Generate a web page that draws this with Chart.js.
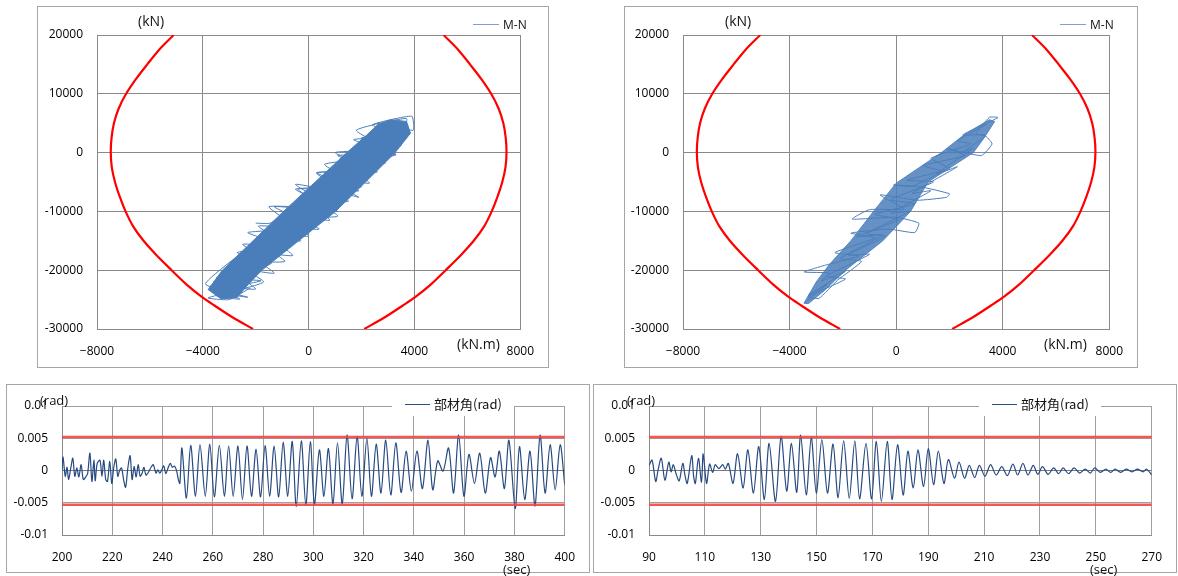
<!DOCTYPE html>
<html>
<head>
<meta charset="utf-8">
<script src="https://cdn.jsdelivr.net/npm/chart.js@4.4.0/dist/chart.umd.min.js"></script>
<style>
body { margin: 0; width: 1178px; height: 576px; background: #fff; position: relative; overflow: hidden; font-family: "Open Sans", sans-serif; }
.box { position: absolute; border: 1px solid #a6a6a6; box-sizing: border-box; }
canvas { position: absolute; }
.lbl { position: absolute; white-space: nowrap; color: #111; line-height: 16px; }
.key { position: absolute; height: 0; border-top: 1.5px solid; }
.keybg { position: absolute; background: #fff; }
.cjk { font-family: "Noto Sans CJK JP", "Open Sans", sans-serif; }
</style>
</head>
<body>

<div class="box" style="left:37px;top:6px;width:512px;height:362px"></div>
<canvas id="mn1" width="512" height="362" style="left:37px;top:6px"></canvas>
<div class="lbl" style="left:138px;top:13px;font-size:14px">(kN)</div>
<div class="lbl" style="left:457px;top:336px;font-size:14px">(kN.m)</div>
<div class="key" style="left:473px;top:24px;width:26px;border-color:#7d9fd3"></div>
<div class="lbl" style="left:503px;top:17px;font-size:12px">M-N</div>

<div class="box" style="left:624px;top:6px;width:514px;height:362px"></div>
<canvas id="mn2" width="514" height="362" style="left:624px;top:6px"></canvas>
<div class="lbl" style="left:725px;top:13px;font-size:14px">(kN)</div>
<div class="lbl" style="left:1044px;top:336px;font-size:14px">(kN.m)</div>
<div class="key" style="left:1060px;top:24px;width:26px;border-color:#7d9fd3"></div>
<div class="lbl" style="left:1090px;top:17px;font-size:12px">M-N</div>

<div class="box" style="left:6px;top:384px;width:584px;height:189px"></div>
<canvas id="dr1" width="584" height="189" style="left:6px;top:384px"></canvas>
<div class="keybg" style="left:392px;top:397px;width:122px;height:19px"></div>
<div class="key" style="left:405px;top:404px;width:25px;border-color:#2a4f86"></div>
<div class="lbl cjk" style="left:434px;top:396px;font-size:13px">部材角(rad)</div>
<div class="lbl" style="left:40px;top:392px;font-size:13px">(rad)</div>
<div class="lbl" style="left:503px;top:561px;font-size:13px">(sec)</div>

<div class="box" style="left:593px;top:384px;width:584px;height:189px"></div>
<canvas id="dr2" width="584" height="189" style="left:593px;top:384px"></canvas>
<div class="keybg" style="left:979px;top:397px;width:122px;height:19px"></div>
<div class="key" style="left:992px;top:404px;width:25px;border-color:#2a4f86"></div>
<div class="lbl cjk" style="left:1021px;top:396px;font-size:13px">部材角(rad)</div>
<div class="lbl" style="left:627px;top:392px;font-size:13px">(rad)</div>
<div class="lbl" style="left:1090px;top:561px;font-size:13px">(sec)</div>

<script>
// axis ticks
const mnTicksM = [-8000, -4000, 0, 4000, 8000];
const mnTicksN = [-30000, -20000, -10000, 0, 10000, 20000];
const driftTicksV = [-0.01, -0.005, 0, 0.005, 0.01];
const driftTicksT1 = [200, 220, 240, 260, 280, 300, 320, 340, 360, 380, 400];
const driftTicksT2 = [90, 110, 130, 150, 170, 190, 210, 230, 250, 270];

// M-N capacity curve (left and right branches)
const capN      = [20000, 17500, 15000, 12500, 10000, 7500, 5000, 2500, 0, -2500, -5000, -7500, -10000, -12500, -15000, -17500, -20000, -22500, -24500, -26000, -28000, -30000];
const capLeftM  = [-5100, -5650, -6100, -6530, -6900, -7180, -7360, -7450, -7480, -7440, -7320, -7140, -6920, -6640, -6240, -5740, -5180, -4600, -4050, -3560, -2880, -2100];
const capRightM = [5100, 5650, 6100, 6530, 6900, 7180, 7360, 7450, 7480, 7440, 7320, 7140, 6920, 6640, 6240, 5740, 5180, 4600, 4050, 3560, 2880, 2100];

// case 1 : dense part of the M-N loops, and the loop trace
const core1M = [-3800, -3260, -2100, -950, 250, 1445, 2200, 2600, 3100, 3700, 3850, 3270, 2150, 1020, -380, -1770, -2300, -2700, -3300, -3800];
const core1N = [-23300, -20000, -15000, -10000, -5000, 0, 3000, 4700, 5600, 5300, 3300, 0, -5000, -10000, -15000, -20000, -22500, -24600, -24900, -23300];
const loop1M = [-2000, -1450, -600, -1300, -3900, -2300, -3600, -1800, -3500, -1400, -2500, -700, -1900, 400, -1300, 1100, -500, 1900, 300, 2600, 1100, 3300, 1700, 3700, 2400, 3900, 3950,
                2600, 3500, 1900, 2900, 1200, 2300, 500, 1500, -200, 800, -1000, 0, -1700, -600, -2400, -1300, -3100, -2000, -3700, -2600,
                -3500, -2500, -3600, -1600, -2700, -1000, -2300, -500, -1500, 800, -500, 1400, 1900, 300, 2300, 1000, 2900, 1800, 3700, 3500,
                2000, 3300, 600, 2000, -400, 1100, -1200, -300, -2000, -900, -2900, -1700, -3800, -3000, -2200];
const loop1N = [-12000, -12000, -9500, -12800, -22300, -24600, -23500, -21800, -21300, -18800, -15600, -16000, -12500, -13000, -9200, -10000, -6200, -6500, -3400, -3300, -500, -300, 2200, 2800, 4700, 6200, 3800,
                5000, 1200, 1500, -1800, -1000, -5200, -4000, -8300, -7500, -11500, -10300, -14200, -13500, -17500, -16800, -20500, -19500, -23200, -22600, -24900,
                -24300, -21000, -22000, -19000, -17000, -15800, -13600, -12800, -9200, -9300, -5400, -7000, -7600, -3500, -2800, 0, 600, 3800, 5800, 3000,
                2500, -400, -2000, -5800, -6200, -10800, -11200, -15000, -14800, -18500, -18600, -22000, -24700, -25000, -23000];

// case 2
const core2M = [-3460, -3000, -2500, -1700, -850, 0, 1700, 2600, 3500, 3700, 3300, 2900, 1200, 540, -500, -1900, -2700, -3300, -3460];
const core2N = [-25600, -22000, -19000, -15000, -10000, -5200, 0, 3200, 5600, 5300, 2500, 0, -5000, -10000, -15000, -20000, -23500, -25700, -25600];
const loop2M = [-3450, -2600, -3300, -1900, -2800, -2500, -3450, -2700, -1400, -2300, -800, -1700, -300, 700, 850, 0, -1650, -1000, 300, -600,
                800, 1900, 2000, 900, -100, 600, 1700, 1000, 2600, 1900, 3200, 3600, 3300, 2500, 3820, 3500, 3000, 3350, 2400, 2900,
                1500, 2300, 600, 1300, -200, 500, -1100, -400, -1800, -1000, -2600, -1900, -3300, -2900, -2200, -1300, -2100, -500, -1500, 100,
                -800, 700, -200, 1400, 400, 2000, 1300, 2800, 2300, 3400];
const loop2N = [-25600, -22400, -24300, -20200, -21800, -20500, -20300, -19200, -17600, -17000, -14500, -13700, -13000, -13600, -12000, -11000, -11300, -9700, -9600, -7200,
                -8100, -7600, -7000, -5800, -5500, -5700, -3200, -2200, -500, 700, -500, 1500, 3000, 3000, 5950, 6000, 3200, 2800, -200, 800,
                -3700, -2400, -6900, -6500, -10300, -10000, -13800, -14200, -17400, -17300, -21000, -21500, -24500, -24800, -21700, -18500, -18000, -14000, -14300, -11400,
                -10500, -8700, -8000, -5000, -4700, -2700, -1000, 1500, 2000, 4800];

// member rotation, case 1 (200-400 sec)
const drift1T = [200.0, 200.4, 201.3, 202.0, 202.6, 203.5, 204.3, 205.1, 205.9, 206.7, 207.6, 208.5, 209.6, 210.2, 211.1, 211.9, 212.7, 213.2, 214.0, 215.1,
                 215.9, 216.6, 217.4, 218.1, 219.0, 219.8, 220.6, 221.4, 222.2, 222.9, 223.7, 224.5, 225.3, 226.2, 227.1, 227.9, 228.7, 229.5, 230.3, 231.1,
                 231.9, 232.6, 233.4, 234.5, 235.4, 236.3, 237.4, 238.1, 238.9, 239.7, 240.5, 241.3, 242.3, 243.1, 243.9, 244.7, 245.5, 246.3, 246.9,
                 247.7, 249.5, 251.2, 253.1, 254.9, 257.0, 258.8, 260.6, 262.6, 264.6, 266.3, 268.1, 270.0, 271.8, 273.6, 275.4, 277.2, 279.0, 280.8, 282.6,
                 284.4, 286.2, 288.0, 289.8, 291.6, 293.2, 295.2, 297.0, 298.8, 300.4, 302.4, 304.2, 306.0, 307.8, 309.6, 311.5, 313.4, 315.4, 317.4, 319.3,
                 321.3, 323.1, 325.0, 326.9, 328.8, 330.8, 332.8, 334.9, 336.9, 339.0, 341.2, 343.4, 345.6, 347.5, 349.5, 351.6, 353.8, 355.8, 357.8, 359.9,
                 361.9, 364.1, 366.2, 368.4, 370.5, 372.3, 374.0, 376.0, 377.8, 380.3, 382.0, 384.1, 386.2, 388.2, 390.2, 392.2, 394.2, 396.2, 398.2, 400.0];
const drift1V = [0, 0.0021, -0.0009, 0.0005, -0.0014, 0.0004, 0.0019, -0.0009, 0.0004, -0.0010, 0.0009, -0.0014, -0.0009, -0.0005, 0.0027, -0.0017, 0.0016, -0.0016, 0.0011, 0.0016,
                 -0.0009, 0.0016, -0.0014, -0.0017, 0.0014, -0.0020, 0.0005, 0.0018, -0.0009, 0, 0.0004, -0.0014, -0.0026, 0.0004, 0.0023, -0.0014, 0.0006, -0.0010, 0.0009, -0.0009,
                 -0.0004, 0.0005, -0.0007, -0.0002, 0.0005, 0.0009, -0.0004, 0.0001, -0.0004, 0.0001, 0.0007, -0.0005, 0.0005, 0.0011, 0.0005, 0.0007, 0.0001, -0.0014, -0.0020,
                 0.0035, -0.0043, 0.0039, -0.0040, 0.0040, -0.0040, 0.0041, -0.0041, 0.0039, -0.0040, 0.0038, -0.0040, 0.0038, -0.0045, 0.0038, -0.0040, 0.0033, -0.0041, 0.0039, -0.0040,
                 0.0038, -0.0041, 0.0044, -0.0040, 0.0045, -0.0056, 0.0046, -0.0054, 0.0045, -0.0053, 0.0032, -0.0040, 0.0034, -0.0052, 0.0043, -0.0052, 0.0055, -0.0044, 0.0053, -0.0040,
                 0.0050, -0.0040, 0.0041, -0.0035, 0.0047, -0.0038, 0.0043, -0.0034, 0.0030, -0.0032, 0.0030, -0.0028, 0.0047, -0.0030, 0.0015, -0.0001, 0.0035, -0.0035, 0.0055, -0.0040,
                 0.0025, -0.0020, 0.0027, -0.0035, 0.0020, -0.0010, 0.0030, -0.0028, 0.0047, -0.0059, 0.0037, -0.0045, 0.0030, -0.0055, 0.0055, -0.0035, 0.0040, -0.0030, 0.0040, -0.0022];

// member rotation, case 2 (90-270 sec)
const drift2T = [90.0, 91.1, 92.4, 93.3, 94.4, 95.7, 97.1, 97.9, 98.7, 99.7, 100.8, 102.1, 102.9, 103.7, 105.3, 106.0, 106.6, 107.7, 108.8, 109.4,
                 110.6, 111.7, 112.8, 113.7, 115.0, 116.4, 117.3, 118.4, 120.1, 121.7, 123.7, 125.4, 127.4, 129.3, 131.3, 133.0, 135.3, 137.3, 139.3, 141.0,
                 142.9, 144.3, 146.3, 148.1, 149.9, 151.9, 153.9, 155.9, 157.7, 159.7, 161.7, 163.7, 165.4, 167.7, 169.7, 171.4, 173.2, 175.3, 177.0, 179.0,
                 181.0, 182.7, 184.6, 186.3, 188.3, 190.0, 191.9, 193.6, 195.6, 197.2, 199.4, 201.0, 203.0, 204.7, 206.6, 208.3, 210.3, 212.3, 214.3, 216.3,
                 218.3, 220.3, 222.0, 223.9, 225.7, 227.6, 229.2, 230.9, 232.9, 234.9, 236.7, 238.3, 240.2, 242.2, 244.2, 246.2, 248.0, 249.6, 251.6, 253.6,
                 255.3, 256.9, 258.9, 260.9, 262.9, 264.9, 266.9, 268.2, 270.0];
const drift2V = [0.0008, 0.0016, -0.0017, 0.0002, 0.0019, -0.0015, 0.0013, -0.0002, 0.0009, -0.0005, -0.0016, 0.0011, -0.0008, -0.0020, 0.0023, -0.0010, -0.0020, 0.0019, -0.0018, 0.0026,
                 -0.0020, 0.0010, -0.0003, 0.0009, 0.0003, 0.0009, 0.0002, 0.0011, -0.0020, 0.0026, -0.0027, 0.0032, -0.0035, 0.0037, -0.0045, 0.0042, -0.0048, 0.0053, -0.0032, 0.0042,
                 -0.0034, 0.0055, -0.0038, 0.0051, -0.0035, 0.0048, -0.0035, 0.0041, -0.0042, 0.0046, -0.0043, 0.0046, -0.0044, 0.0042, -0.0044, 0.0045, -0.0048, 0.0045, -0.0045, 0.0040,
                 -0.0038, 0.0030, -0.0027, 0.0032, -0.0025, 0.0034, -0.0022, 0.0030, -0.0020, 0.0017, -0.0012, 0.0013, -0.0012, 0.0008, -0.0011, 0.0008, -0.0009, 0.0009, -0.0007, 0.0006,
                 -0.0008, 0.0010, -0.0007, 0.0011, -0.0007, 0.0008, -0.0006, 0.0006, -0.0006, 0.0004, -0.0005, 0.0004, -0.0005, 0.0004, -0.0004, 0.0002, -0.0004, 0.0004, -0.0003, 0.0002,
                 -0.0003, 0.0002, -0.0003, 0.0002, -0.0002, 0.0002, -0.0002, 0.0002, -0.0007];

// allowable rotation lines
const limitV = [0.0052, -0.0053];

Chart.defaults.font.family = '"Open Sans", sans-serif';
Chart.defaults.font.size = 12;
Chart.defaults.color = '#000';

function pts(xs, ys) {
  return xs.map((x, i) => ({ x: x, y: ys[i] }));
}

function fixTicks(list) {
  return function (scale) { scale.ticks = list.map(v => ({ value: v })); };
}

const blue = '#4a7ebb';
const red = '#ff0000';

function mnChart(id, coreM, coreN, loopM, loopN, coreFill, yWidth, padRight) {
  new Chart(document.getElementById(id), {
    type: 'scatter',
    data: {
      datasets: [
        { data: pts(capLeftM, capN), showLine: true, borderColor: red, borderWidth: 2.2, pointRadius: 0, tension: 0.3 },
        { data: pts(capRightM, capN), showLine: true, borderColor: red, borderWidth: 2.2, pointRadius: 0, tension: 0.3 },
        { label: 'M-N', data: pts(loopM, loopN), showLine: true, borderColor: blue, borderWidth: 1, pointRadius: 0, tension: 0.15 },
        { data: pts(coreM, coreN), showLine: true, fill: 'shape', backgroundColor: coreFill, borderColor: coreFill, borderWidth: 1, pointRadius: 0, tension: 0 }
      ]
    },
    options: {
      responsive: false,
      animation: false,
      events: [],
      layout: { padding: { left: 0, right: padRight, top: 29, bottom: 0 } },
      plugins: { legend: { display: false }, tooltip: { enabled: false } },
      scales: {
        x: {
          type: 'linear', min: -8000, max: 8000,
          afterBuildTicks: fixTicks(mnTicksM),
          afterFit: s => { s.height = 39; },
          grid: { color: '#8a8a8a', drawTicks: false },
          border: { color: '#8a8a8a' },
          ticks: { padding: 15, callback: v => (v < 0 ? '\u2212' + Math.abs(v) : String(v)) }
        },
        y: {
          type: 'linear', min: -30000, max: 20000,
          afterBuildTicks: fixTicks(mnTicksN),
          afterFit: s => { s.width = yWidth; },
          grid: { color: '#8a8a8a', drawTicks: false },
          border: { color: '#8a8a8a' },
          ticks: { padding: 14, callback: v => String(v) }
        }
      }
    }
  });
}

function driftChart(id, ts, vs, tTicks) {
  const t0 = tTicks[0], t1 = tTicks[tTicks.length - 1];
  new Chart(document.getElementById(id), {
    type: 'scatter',
    data: {
      datasets: [
        { data: pts([t0, t1], [limitV[0], limitV[0]]), showLine: true, borderColor: 'rgba(240,70,70,0.9)', borderWidth: 2.5, pointRadius: 0 },
        { data: pts([t0, t1], [limitV[1], limitV[1]]), showLine: true, borderColor: 'rgba(240,70,70,0.9)', borderWidth: 2.5, pointRadius: 0 },
        { label: '部材角(rad)', data: pts(ts, vs), showLine: true, borderColor: '#264a82', borderWidth: 1.2, pointRadius: 0, tension: 0.3 }
      ]
    },
    options: {
      responsive: false,
      animation: false,
      events: [],
      layout: { padding: { left: 0, right: 21, top: 22, bottom: 0 } },
      plugins: { legend: { display: false }, tooltip: { enabled: false } },
      scales: {
        x: {
          type: 'linear', min: t0, max: t1,
          afterBuildTicks: fixTicks(tTicks),
          afterFit: s => { s.height = 38; },
          grid: { color: '#a0a0a0', drawTicks: false },
          border: { color: '#8a8a8a' },
          ticks: { padding: 15, callback: v => String(v) }
        },
        y: {
          type: 'linear', min: -0.01, max: 0.01,
          afterBuildTicks: fixTicks(driftTicksV),
          afterFit: s => { s.width = 56; },
          grid: { color: ctx => (ctx.tick && ctx.tick.value === 0 ? '#7a7a7a' : '#a0a0a0'), drawTicks: false },
          border: { color: '#8a8a8a' },
          ticks: { padding: 14, callback: v => String(parseFloat(v.toFixed(3))) }
        }
      }
    }
  });
}

mnChart('mn1', core1M, core1N, loop1M, loop1N, blue, 60, 22);
mnChart('mn2', core2M, core2N, loop2M, loop2N, 'rgba(74,126,187,0.85)', 59, 23);
driftChart('dr1', drift1T, drift1V, driftTicksT1);
driftChart('dr2', drift2T, drift2V, driftTicksT2);
</script>
</body>
</html>
